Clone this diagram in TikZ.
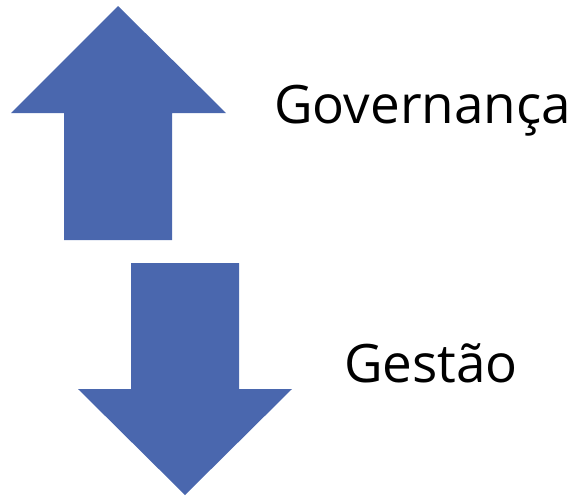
\documentclass[tikz,border=0pt]{standalone}
\usepackage{fontspec}
\setmainfont{Open Sans}
\definecolor{arrowblue}{RGB}{74,103,174}
\begin{document}
\begin{tikzpicture}[
       x=1pt, y=-1pt,
       blockarrow/.style={fill=arrowblue, draw=none},
       label/.style={anchor=base west, inner sep=0pt, font=\fontsize{53}{60}\selectfont}
   ]
   \useasboundingbox (0,0) rectangle (582,496);
   % up arrow
   \fill[blockarrow] (118,6) -- (226,113) -- (172,113) -- (172,240) -- (64,240) -- (64,113) -- (11,113) -- cycle;
   % down arrow
   \fill[blockarrow] (131,263) -- (239,263) -- (239,389) -- (292,389) -- (185,495) -- (78,389) -- (131,389) -- cycle;
   \node[label] (gov) at (274,123) {Governança};
   \node[label] (ges) at (344,382) {Gestão};
   \end{tikzpicture}
\end{document}
